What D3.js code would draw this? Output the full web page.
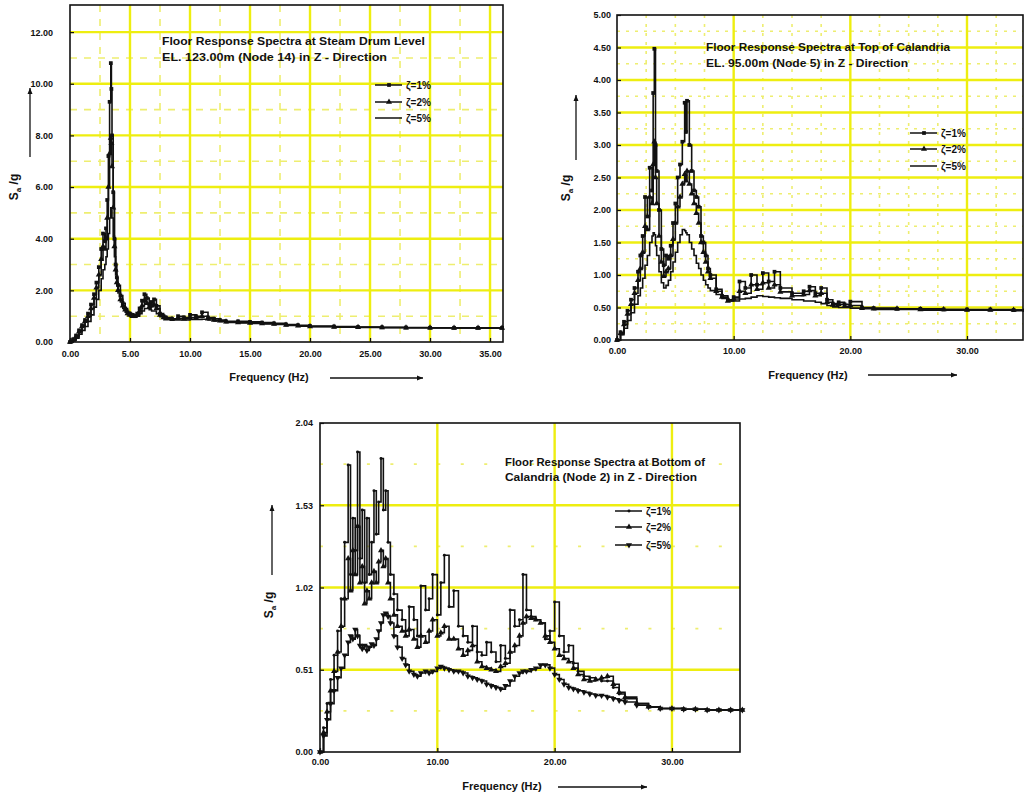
<!DOCTYPE html>
<html>
<head>
<meta charset="utf-8">
<script src="https://cdn.jsdelivr.net/npm/d3@7"></script>
<style>
  body { margin: 0; background: #fff; }
  text { font-family: "Liberation Sans Narrow", "Liberation Sans", Arial, sans-serif; fill: #111; }
  .tick text { font-size: 9px; font-weight: bold; }
</style>
</head>
<body>
<div id="chart"></div>
<script>
// ---- Steam drum level (EL. 123.00m, node 14) ----
const sdFreq = [
  0, 0.25, 0.5, 0.75, 1.0, 1.25, 1.5, 1.75, 2.0, 2.2,
  2.4, 2.6, 2.75, 2.9, 3.0, 3.1, 3.2, 3.3, 3.4, 3.45,
  3.5, 3.6, 3.7, 3.8, 3.9, 4.0, 4.2, 4.4, 4.6, 4.8,
  5.0, 5.2, 5.4, 5.6, 5.8, 6.0, 6.2, 6.4, 6.6, 6.8,
  7.0, 7.2, 7.5, 7.8, 8.0, 8.5, 9.0, 9.5, 10.0, 10.5,
  11.0, 11.5, 12.0, 12.5, 13.0, 14, 15, 16, 17, 18,
  19, 20, 22, 24, 26, 28, 30, 32, 34, 36];
const sd1 = [
  0, 0.1, 0.25, 0.45, 0.65, 0.85, 1.1, 1.45, 1.85, 2.3,
  2.9, 3.6, 4.2, 3.9, 4.4, 5.5, 7.2, 9.3, 10.8, 9.8,
  8.0, 5.8, 4.0, 3.0, 2.5, 2.2, 1.8, 1.5, 1.3, 1.15,
  1.1, 1.05, 1.0, 1.1, 1.3, 1.6, 1.85, 1.7, 1.45, 1.55,
  1.65, 1.4, 1.1, 1.0, 0.95, 0.9, 1.0, 0.95, 1.05, 1.0,
  1.15, 0.95, 0.9, 0.85, 0.8, 0.8, 0.78, 0.75, 0.72, 0.68,
  0.65, 0.62, 0.6, 0.58, 0.57, 0.56, 0.55, 0.55, 0.55, 0.55];
const sd2 = [
  0, 0.08, 0.2, 0.4, 0.6, 0.8, 1.0, 1.3, 1.7, 2.1,
  2.6, 3.2, 3.7, 3.6, 4.0, 4.8, 6.0, 7.3, 7.9, 7.7,
  6.8, 5.2, 3.7, 2.8, 2.3, 2.0, 1.65, 1.4, 1.25, 1.1,
  1.05, 1.0, 1.0, 1.05, 1.2, 1.4, 1.6, 1.5, 1.35, 1.4,
  1.45, 1.3, 1.05, 0.95, 0.9, 0.88, 0.92, 0.9, 0.95, 0.95,
  1.0, 0.9, 0.85, 0.82, 0.78, 0.76, 0.74, 0.72, 0.7, 0.66,
  0.63, 0.6, 0.58, 0.57, 0.56, 0.55, 0.55, 0.54, 0.54, 0.54];
const sd5 = [
  0, 0.06, 0.15, 0.3, 0.45, 0.6, 0.8, 1.05, 1.35, 1.65,
  2.0, 2.45, 2.8, 3.0, 3.3, 3.6, 4.2, 4.8, 5.2, 5.1,
  4.8, 4.1, 3.3, 2.6, 2.2, 1.9, 1.55, 1.3, 1.15, 1.05,
  1.0, 0.98, 0.98, 1.0, 1.1, 1.2, 1.3, 1.3, 1.25, 1.2,
  1.2, 1.1, 0.98, 0.9, 0.88, 0.85, 0.85, 0.85, 0.87, 0.87,
  0.88, 0.85, 0.82, 0.8, 0.76, 0.74, 0.72, 0.7, 0.68, 0.64,
  0.61, 0.59, 0.57, 0.56, 0.55, 0.55, 0.54, 0.54, 0.53, 0.53];
const sdXTicks = [0, 5, 10, 15, 20, 25, 30, 35];
const sdYTicks = [0, 2, 4, 6, 8, 10, 12];

// ---- Top of calandria (EL. 95.00m, node 5) ----
const tcFreq = [
  0, 0.3, 0.6, 0.9, 1.2, 1.5, 1.8, 2.0, 2.2, 2.4,
  2.6, 2.8, 3.0, 3.1, 3.2, 3.3, 3.4, 3.6, 3.8, 4.0,
  4.2, 4.4, 4.6, 4.8, 5.0, 5.2, 5.4, 5.6, 5.8, 5.9,
  6.0, 6.2, 6.4, 6.6, 6.8, 7.0, 7.2, 7.4, 7.6, 7.8,
  8.0, 8.5, 9.0, 9.5, 10.0, 10.5, 11.0, 11.5, 12.0, 12.5,
  13.0, 13.5, 14.0, 15.0, 16.0, 16.5, 17.0, 17.5, 18.0, 18.5,
  19.0, 19.5, 20.0, 21, 22, 24, 26, 28, 30, 32,
  34, 35];
const tc1 = [
  0, 0.12, 0.28, 0.45, 0.62, 0.8, 1.05, 1.3, 1.6, 2.2,
  1.9, 2.65, 2.3, 3.8, 4.48, 3.0, 2.6, 2.0, 1.4, 1.15,
  1.3, 1.25, 1.45, 1.8, 2.1, 2.5, 2.7, 3.05, 3.65, 3.2,
  3.68, 3.0, 2.6, 2.3, 2.2, 2.05, 1.6, 1.5, 1.3, 1.1,
  1.0, 0.78, 0.68, 0.62, 0.66, 0.9, 0.8, 1.0, 0.85, 1.03,
  0.9, 1.05, 0.8, 0.72, 0.75, 0.82, 0.72, 0.8, 0.62, 0.56,
  0.58, 0.55, 0.59, 0.5, 0.49, 0.48, 0.48, 0.47, 0.47, 0.47,
  0.46, 0.46];
const tc2 = [
  0, 0.1, 0.24, 0.4, 0.55, 0.72, 0.92, 1.1, 1.35, 1.75,
  1.7, 2.2, 2.1, 2.7, 3.05, 2.5, 2.1, 1.6, 1.2, 0.98,
  1.05, 1.1, 1.3, 1.55, 1.8, 2.05, 2.2, 2.4, 2.55, 2.45,
  2.6, 2.4, 2.25, 2.1, 1.95, 1.8, 1.5, 1.35, 1.2, 1.05,
  0.95, 0.75, 0.66, 0.6, 0.63, 0.75, 0.72, 0.85, 0.78, 0.88,
  0.8, 0.85, 0.74, 0.68, 0.7, 0.76, 0.68, 0.72, 0.58, 0.54,
  0.55, 0.52, 0.53, 0.49, 0.48, 0.48, 0.47, 0.47, 0.46, 0.46,
  0.46, 0.46];
const tc5 = [
  0, 0.08, 0.18, 0.3, 0.42, 0.55, 0.68, 0.8, 0.95, 1.15,
  1.3, 1.5, 1.6, 1.65, 1.62, 1.45, 1.3, 1.05, 0.88, 0.8,
  0.84, 0.92, 1.05, 1.2, 1.35, 1.5, 1.62, 1.7, 1.68, 1.65,
  1.62, 1.5, 1.4, 1.3, 1.18, 1.1, 1.0, 0.92, 0.85, 0.8,
  0.76, 0.7, 0.64, 0.6, 0.6, 0.63, 0.64, 0.66, 0.68, 0.67,
  0.66, 0.65, 0.64, 0.62, 0.6, 0.6, 0.58, 0.56, 0.53, 0.51,
  0.5, 0.5, 0.49, 0.48, 0.47, 0.47, 0.46, 0.46, 0.46, 0.46,
  0.45, 0.45];
const tcXTicks = [0, 10, 20, 30];
const tcYTicks = [0, 0.5, 1, 1.5, 2, 2.5, 3, 3.5, 4, 4.5, 5];

// ---- Bottom of calandria (node 2) ----
const bcFreq = [
  0, 0.3, 0.6, 0.9, 1.2, 1.5, 1.8, 2.1, 2.4, 2.6,
  2.8, 3.0, 3.2, 3.4, 3.6, 3.8, 4.0, 4.2, 4.4, 4.6,
  4.8, 5.0, 5.2, 5.4, 5.6, 5.8, 6.0, 6.3, 6.6, 7.0,
  7.3, 7.6, 8.0, 8.3, 8.6, 9.0, 9.3, 9.6, 10.0, 10.3,
  10.6, 11.0, 11.4, 11.8, 12.2, 12.6, 13.0, 13.4, 13.8, 14.2,
  14.6, 15.0, 15.4, 15.8, 16.2, 16.6, 17.0, 17.3, 17.6, 18.0,
  18.4, 18.8, 19.2, 19.6, 20.0, 20.4, 20.8, 21.2, 21.6, 22.0,
  22.5, 23.0, 23.5, 24.0, 24.5, 25.0, 25.5, 26.0, 27, 28,
  29, 30, 31, 32, 33, 34, 35, 36];
const bc1 = [
  0, 0.15, 0.3, 0.45, 0.6, 0.75, 0.95, 1.3, 1.78, 1.1,
  1.45, 1.25, 1.86, 1.2, 1.5, 1.05, 1.45, 1.1, 1.3, 1.62,
  1.35, 1.55, 1.82, 1.5, 1.62, 1.3, 1.1, 0.98, 0.88, 0.82,
  0.75, 0.9, 0.82, 0.72, 1.03, 0.88, 0.95, 1.1, 0.85, 1.05,
  1.22, 0.9, 1.0, 0.78, 0.72, 0.68, 0.78, 0.62, 0.6, 0.68,
  0.62, 0.56, 0.66, 0.58, 0.88, 0.78, 0.82, 1.1, 0.88, 0.84,
  0.82, 0.8, 0.7, 0.75, 0.93, 0.72, 0.62, 0.66, 0.55, 0.5,
  0.47, 0.46, 0.45, 0.44, 0.44, 0.4, 0.36, 0.33, 0.3, 0.28,
  0.27, 0.27, 0.265, 0.265, 0.26, 0.26, 0.26, 0.26];
const bc2 = [
  0, 0.12, 0.25, 0.38, 0.5, 0.62, 0.78, 0.95, 1.2, 1.0,
  1.25, 1.1, 1.4, 1.05, 1.15, 0.92, 1.0, 0.95, 1.05, 1.12,
  1.05, 1.18, 1.25, 1.15, 1.2, 1.05, 0.95, 0.85, 0.78, 0.75,
  0.72, 0.76, 0.7, 0.65, 0.72, 0.68, 0.75, 0.82, 0.72, 0.74,
  0.78, 0.7, 0.7, 0.64, 0.6, 0.63, 0.66, 0.56, 0.53, 0.52,
  0.51, 0.5, 0.53, 0.55, 0.62, 0.66, 0.72, 0.8, 0.84, 0.83,
  0.82, 0.8, 0.72, 0.68, 0.64, 0.6, 0.58, 0.56, 0.52, 0.48,
  0.45, 0.44, 0.45, 0.46, 0.47, 0.42, 0.37, 0.34, 0.3, 0.28,
  0.27, 0.27, 0.265, 0.265, 0.26, 0.26, 0.26, 0.26];
const bc5 = [
  0, 0.1, 0.2, 0.3, 0.38, 0.46, 0.52, 0.6, 0.68, 0.72,
  0.7, 0.76, 0.72, 0.66, 0.64, 0.66, 0.63, 0.65, 0.67, 0.66,
  0.7, 0.75, 0.8, 0.85, 0.86, 0.84, 0.8, 0.72, 0.65, 0.58,
  0.54, 0.5, 0.48, 0.47, 0.49, 0.5, 0.49, 0.5, 0.52, 0.53,
  0.52, 0.51, 0.5, 0.5, 0.49, 0.47, 0.46, 0.45, 0.44, 0.42,
  0.41, 0.4, 0.39, 0.41, 0.44, 0.47, 0.49, 0.5, 0.5, 0.51,
  0.52, 0.54, 0.54, 0.52, 0.48, 0.45, 0.42, 0.4, 0.39, 0.38,
  0.37, 0.36, 0.35, 0.35, 0.34, 0.33, 0.32, 0.31, 0.29, 0.28,
  0.27, 0.27, 0.265, 0.265, 0.26, 0.26, 0.26, 0.26];
const bcXTicks = [0, 10, 20, 30];
const bcYTicks = [0, 0.51, 1.02, 1.53, 2.04];

const legendLabels = ["ζ=1%", "ζ=2%", "ζ=5%"];

// Layout for each panel
const panels = [
  {
    freq: sdFreq, series: [sd1, sd2, sd5], markers: ["square", "triangle", null],
    left: 70, right: 503, top: 5, bottom: 342, xMax: 36.08, yMax: 13.05,
    xTicks: sdXTicks, yTicks: sdYTicks,
    minorX: [2.5, 7.5, 12.5, 17.5, 22.5, 27.5, 32.5], minorY: [1, 3, 5, 7, 9, 11],
    minorDash: "7,7", yPad: 17, xPad: 9,
    title: ["Floor Response Spectra at Steam Drum Level", "EL. 123.00m (Node 14) in Z - Direction"],
    titleX: 162, titleY: [45, 61], titleW: [263, 225],
    legX: 375, legY: [85, 102, 118],
    yLab: [18, 187], yArrow: [30, 157, 88],
    xLab: [269, 381], xArrow: [330, 423, 378]
  },
  {
    freq: tcFreq, series: [tc1, tc2, tc5], markers: ["square", "triangle", null],
    left: 617, right: 1023, top: 15, bottom: 340, xMax: 34.8, yMax: 5,
    xTicks: tcXTicks, yTicks: tcYTicks,
    minorX: [2.5, 5, 7.5, 12.5, 15, 17.5, 22.5, 25, 27.5, 32.5],
    minorY: [0.25, 0.75, 1.25, 1.75, 2.25, 2.75, 3.25, 3.75, 4.25, 4.75],
    minorDash: "3,6", yPad: 6, xPad: 8,
    title: ["Floor Response Spectra at Top of Calandria", "EL. 95.00m (Node 5) in Z - Direction"],
    titleX: 706, titleY: [51, 67], titleW: [244, 202],
    legX: 910, legY: [133, 149, 166],
    yLab: [570, 188], yArrow: [576, 160, 95],
    xLab: [808, 379], xArrow: [868, 957, 375]
  },
  {
    freq: bcFreq, series: [bc1, bc2, bc5], markers: ["dot", "triangle", "triangleDown"],
    left: 320, right: 740, top: 423, bottom: 752, xMax: 35.8, yMax: 2.04,
    xTicks: bcXTicks, yTicks: bcYTicks,
    minorX: [], minorY: [0.255, 0.765, 1.275, 1.785],
    minorDash: null, yPad: 7, xPad: 7,
    title: ["Floor Response Spectra at Bottom of", "Calandria (Node 2) in Z - Direction"],
    titleX: 505, titleY: [466, 481], titleW: [200, 192],
    legX: 615, legY: [511, 527, 545],
    yLab: [273, 605], yArrow: [272, 575, 505],
    xLab: [502, 790], xArrow: [558, 647, 787]
  }
];

const svg = d3.select("#chart").append("svg")
  .attr("width", 1024).attr("height", 798)
  .style("display", "block");

svg.append("rect").attr("width", 1024).attr("height", 798).attr("fill", "#fff");

const symbolFor = {
  square: d3.symbol().type(d3.symbolSquare).size(14),
  triangle: d3.symbol().type(d3.symbolTriangle).size(16),
  triangleDown: d3.symbol().type(d3.symbolTriangle).size(16),
  dot: d3.symbol().type(d3.symbolCircle).size(7)
};

function arrow(g, x1, y1, x2, y2) {
  g.append("line").attr("x1", x1).attr("y1", y1).attr("x2", x2).attr("y2", y2)
    .attr("stroke", "#111").attr("stroke-width", 1.3);
  const a = Math.atan2(y2 - y1, x2 - x1);
  const pts = [[x2, y2],
    [x2 - 6 * Math.cos(a) + 2.5 * Math.sin(a), y2 - 6 * Math.sin(a) - 2.5 * Math.cos(a)],
    [x2 - 6 * Math.cos(a) - 2.5 * Math.sin(a), y2 - 6 * Math.sin(a) + 2.5 * Math.cos(a)]];
  g.append("polygon").attr("points", pts.map(p => p.join(",")).join(" ")).attr("fill", "#111");
}

panels.forEach(p => {
  const x = d3.scaleLinear().domain([0, p.xMax]).range([p.left, p.right]);
  const y = d3.scaleLinear().domain([0, p.yMax]).range([p.bottom, p.top]);
  const g = svg.append("g");

  // minor grid
  const dotDash = p.minorDash || `3,${(x(2) - x(0) - 3).toFixed(2)}`;
  g.selectAll(".minorY").data(p.minorY).join("line")
    .attr("x1", p.left).attr("x2", p.right)
    .attr("y1", d => y(d)).attr("y2", d => y(d))
    .attr("stroke", "#eeee70").attr("stroke-width", 1.6)
    .attr("stroke-dasharray", dotDash);
  g.selectAll(".minorX").data(p.minorX).join("line")
    .attr("x1", d => x(d)).attr("x2", d => x(d))
    .attr("y1", p.top).attr("y2", p.bottom)
    .attr("stroke", "#eeee70").attr("stroke-width", 1.6)
    .attr("stroke-dasharray", dotDash);

  // major grid
  g.selectAll(".majorY").data(p.yTicks.filter(d => d > 0 && d < p.yMax)).join("line")
    .attr("x1", p.left).attr("x2", p.right)
    .attr("y1", d => y(d)).attr("y2", d => y(d))
    .attr("stroke", "#eeee10").attr("stroke-width", 2.4);
  g.selectAll(".majorX").data(p.xTicks.filter(d => d > 0)).join("line")
    .attr("x1", d => x(d)).attr("x2", d => x(d))
    .attr("y1", p.top).attr("y2", p.bottom)
    .attr("stroke", "#eeee10").attr("stroke-width", 2.4);

  // axes
  const fmt = d3.format(".2f");
  const xAxis = g.append("g").attr("transform", `translate(0,${p.bottom})`)
    .call(d3.axisBottom(x).tickValues(p.xTicks).tickFormat(fmt).tickSize(-4).tickPadding(p.xPad));
  const yAxis = g.append("g").attr("transform", `translate(${p.left},0)`)
    .call(d3.axisLeft(y).tickValues(p.yTicks).tickFormat(fmt).tickSize(-4).tickPadding(p.yPad));
  [xAxis, yAxis].forEach(a => {
    a.select(".domain").remove();
    a.selectAll(".tick line").attr("stroke", "#111").attr("stroke-width", 1.2);
  });

  // frame
  g.append("rect").attr("x", p.left).attr("y", p.top)
    .attr("width", p.right - p.left).attr("height", p.bottom - p.top)
    .attr("fill", "none").attr("stroke", "#111").attr("stroke-width", 1.6);

  // curves
  const line = d3.line().curve(d3.curveStepAfter)
    .x((d, i) => x(p.freq[i])).y(d => y(d));
  p.series.forEach((s, k) => {
    g.append("path").datum(s).attr("d", line)
      .attr("fill", "none").attr("stroke", "#111").attr("stroke-width", 1.6);
    const m = p.markers[k];
    if (m) {
      g.selectAll(null).data(s).join("path")
        .attr("d", symbolFor[m])
        .attr("transform", (d, i) => `translate(${x(p.freq[i])},${y(d)})${m === "triangleDown" ? " rotate(180)" : ""}`)
        .attr("fill", "#111");
    }
  });

  // title
  p.title.forEach((t, i) => {
    g.append("text").attr("x", p.titleX).attr("y", p.titleY[i])
      .attr("font-size", 11).attr("font-weight", "bold")
      .attr("textLength", p.titleW[i]).attr("lengthAdjust", "spacingAndGlyphs")
      .text(t);
  });

  // legend
  legendLabels.forEach((t, i) => {
    const ly = p.legY[i];
    g.append("line").attr("x1", p.legX).attr("x2", p.legX + 27)
      .attr("y1", ly).attr("y2", ly).attr("stroke", "#111").attr("stroke-width", 1.5);
    const m = p.markers[i];
    if (m) {
      g.append("path").attr("d", symbolFor[m])
        .attr("transform", `translate(${p.legX + 14},${ly})${m === "triangleDown" ? " rotate(180)" : ""}`)
        .attr("fill", "#111");
    }
    g.append("text").attr("x", p.legX + 31).attr("y", ly + 3.5)
      .attr("font-size", 10).attr("font-weight", "bold").text(t);
  });

  // axis labels with arrows
  const yl = g.append("text")
    .attr("transform", `translate(${p.yLab[0]},${p.yLab[1]}) rotate(-90)`)
    .attr("text-anchor", "middle").attr("font-size", 12).attr("font-weight", "bold");
  yl.append("tspan").text("S");
  yl.append("tspan").attr("font-size", 8).attr("dy", 3).text("a");
  yl.append("tspan").attr("dy", -3).text(" /g");
  arrow(g, p.yArrow[0], p.yArrow[1], p.yArrow[0], p.yArrow[2]);

  g.append("text").attr("x", p.xLab[0]).attr("y", p.xLab[1])
    .attr("text-anchor", "middle").attr("font-size", 11).attr("font-weight", "bold")
    .text("Frequency (Hz)");
  arrow(g, p.xArrow[0], p.xArrow[2], p.xArrow[1], p.xArrow[2]);
});
</script>
</body>
</html>
